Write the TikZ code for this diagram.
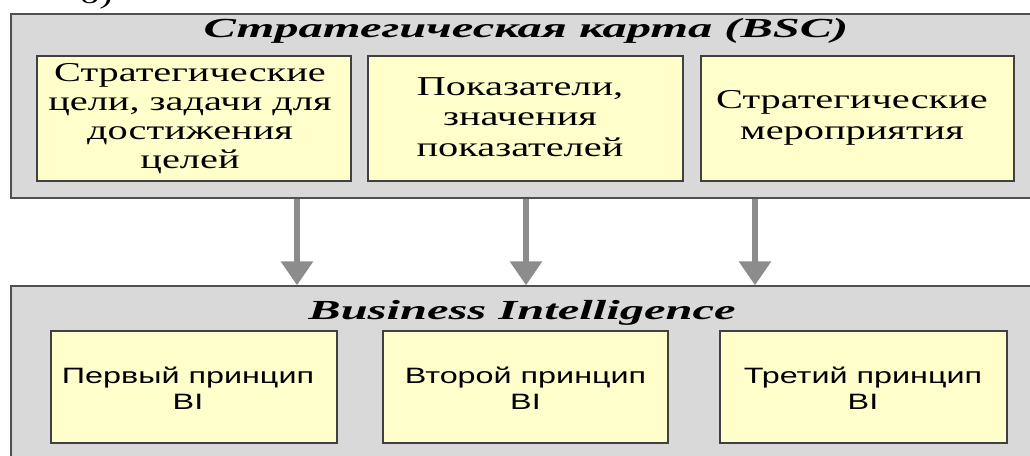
\documentclass[tikz,border=0pt]{standalone}
\usepackage{fontspec}
\setmainfont{Liberation Serif}
\newfontfamily\bodyserif[FakeStretch=1.48]{Liberation Serif}
\newfontfamily\headserif[FakeStretch=1.76]{Liberation Serif}
\newfontfamily\bodysans[FakeStretch=1.455]{Liberation Sans}
\usetikzlibrary{arrows.meta,fit}
\definecolor{panelgray}{HTML}{D9D9D9}
\definecolor{panelline}{HTML}{505050}
\definecolor{notefill}{HTML}{FFFFCC}
\definecolor{noteline}{HTML}{404040}
\definecolor{arrowgray}{HTML}{8C8C8C}
\begin{document}
\begin{tikzpicture}[x=0.025cm,y=-0.025cm,
  panel/.style={draw=panelline, fill=panelgray, line width=1pt, inner sep=0pt},
  note/.style={draw=noteline, fill=notefill, line width=0.8pt, inner sep=0pt},
  heading/.style={font=\headserif\bfseries\itshape\fontsize{19.6}{22}\selectfont, inner sep=0pt, anchor=base},
  sertext/.style={font=\bodyserif\fontsize{19.4}{21.7}\selectfont, align=center, inner sep=0pt},
  santext/.style={font=\bodysans\fontsize{15.8}{18.5}\selectfont, align=center, inner sep=0pt},
  flow/.style={draw=arrowgray, line width=4.2pt, -{Triangle[width=22pt,length=17pt]}}]
\useasboundingbox (0,0) rectangle (1030,455);

% label fragment above the upper panel
\node[font=\bodyserif\fontsize{19}{21}\selectfont, anchor=base, inner sep=0pt] (tag) at (96,3) {б)};

% upper panel: strategy map
\node[panel, fit={(11,14) (1034,198)}] (bsc) {};
\node[heading] (bsctitle) at (526,37) {Стратегическая карта (BSC)};
\node[note, fit={(37,56) (351,181)}] (goals) {};
\node[note, fit={(368,56) (683,181)}] (kpi) {};
\node[note, fit={(701,56) (1014,181)}] (actions) {};
\node[sertext, font=\bodyserif\fontsize{19.4}{20.6}\selectfont] (goalstext) at (190,119)
  {Стратегические\\цели, задачи для\\достижения\\целей};
\node[sertext] (kpitext) at (520,117) {Показатели,\\значения\\показателей};
\node[sertext] (actionstext) at (852,118) {Стратегические\\мероприятия};

% lower panel: business intelligence
\node[panel, fit={(11,286) (1034,462)}] (bi) {};
\node[heading] (bititle) at (522,319) {Business Intelligence};
\node[note, fit={(51,331) (337,443)}] (p1) {};
\node[note, fit={(383,331) (668,443)}] (p2) {};
\node[note, fit={(720,331) (1007,443)}] (p3) {};
\node[santext] (p1text) at (188,388) {Первый принцип\\BI};
\node[santext] (p2text) at (525.5,388) {Второй принцип\\BI};
\node[santext] (p3text) at (863,388) {Третий принцип\\BI};

% connectors between the panels
\coordinate (ax1) at (297,0);
\coordinate (ax2) at (526,0);
\coordinate (ax3) at (755,0);
\draw[flow] (bsc.south -| ax1) -- (bi.north -| ax1);
\draw[flow] (bsc.south -| ax2) -- (bi.north -| ax2);
\draw[flow] (bsc.south -| ax3) -- (bi.north -| ax3);
\end{tikzpicture}
\end{document}
